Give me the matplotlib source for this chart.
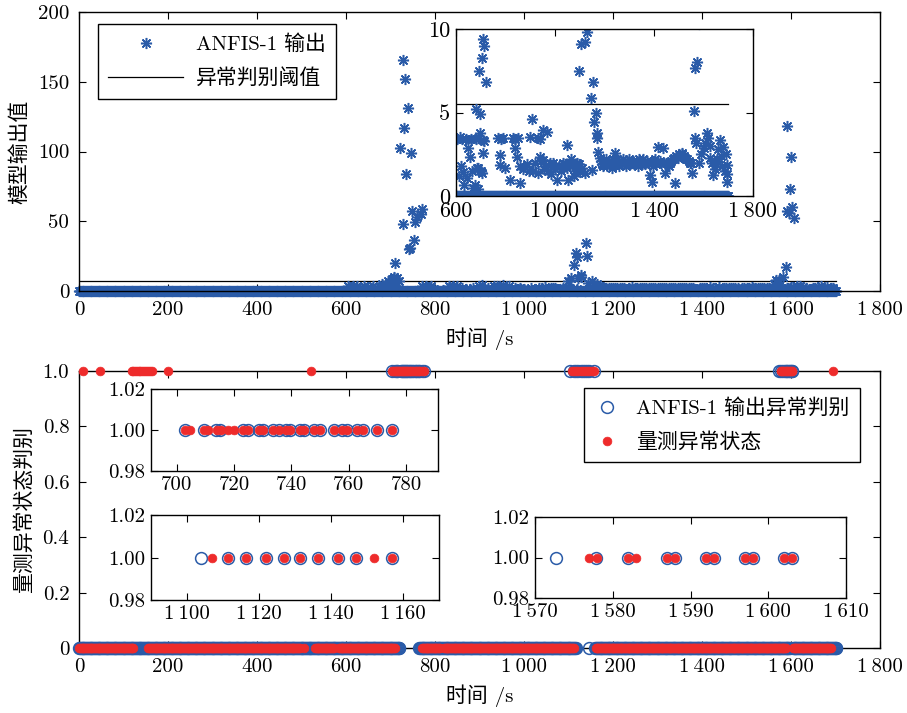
import numpy as np
import matplotlib
matplotlib.use("Agg")
import matplotlib.pyplot as plt
from matplotlib.lines import Line2D

plt.rcParams["font.family"] = ["cmr10", "Noto Sans CJK SC", "DejaVu Serif"]
plt.rcParams["mathtext.fontset"] = "cm"
plt.rcParams["axes.unicode_minus"] = False
plt.rcParams["axes.linewidth"] = 1.0

BLUE = "#2a5ba8"
RED = "#ee2b2b"
TS = "\u2009"

# ---------------- top panel: ANFIS-1 output ----------------
base_start, base_end, base_step = 0, 1700, 2  # output ~0 for every sample

big_t = [707, 711, 715, 722, 727.5, 727.5, 731, 732, 735, 739, 741, 744.7, 745, 748.5,
         752, 756, 760, 768, 771,
         1105, 1112, 1116, 1120, 1127, 1138.6, 1142,
         1581, 1588.6, 1592, 1592, 1596, 1598, 1600, 1603, 1606]
big_v = [10.3, 20.3, 9.0, 102.3, 165.6, 48.0, 116.6, 152.0, 83.9, 131.0, 29.9, 31.0, 99.2, 57.6,
         36.6, 49.7, 53.3, 55.0, 58.6,
         9.1, 18.6, 27.0, 24.6, 11.5, 34.6, 25.1,
         10.3, 17.4, 118.3, 57.0, 55.7, 73.1, 95.8, 60.0, 52.1]

small_t = [605, 616, 625, 640, 660, 680, 690, 697, 710, 712,
           680.8, 697, 694, 703.8, 707.8, 720,
           650, 656.6, 683.6, 629.5, 710, 632, 677, 645, 665, 690, 700, 705, 620, 612, 670, 688,
           771, 780, 791, 832, 840, 850, 778, 778, 798, 818, 838, 845, 858.6, 879, 899, 906,
           932.6, 940, 952.7, 966, 939, 952.7, 980, 993, 1007, 1047, 1033.6, 1060.6, 1087.6,
           1054, 1101, 1148,
           860, 870, 885, 895, 910, 920, 930, 945, 960, 970, 985, 1000, 1015, 1025, 1040,
           1050, 1070, 1080, 1095, 1110, 1120, 1065, 1075, 990, 955,
           1128, 1121, 1098, 1152, 1144, 1164.5, 1157.6, 1168.5, 1175, 1170,
           1180, 1190, 1200, 1210, 1220, 1230, 1242, 1250, 1260, 1270, 1280, 1290, 1300,
           1310, 1320, 1330, 1340, 1350, 1360, 1370, 1380, 1384, 1390.7, 1400, 1410, 1417.5,
           1430, 1437.6, 1444.4, 1450, 1460, 1470, 1480, 1485, 1490, 1500, 1512, 1520, 1530,
           1540, 1552, 1550,
           1185, 1195, 1205, 1215, 1225, 1235, 1255, 1265, 1275, 1285, 1295, 1305, 1315,
           1325, 1335, 1345, 1355, 1365, 1375, 1395, 1405, 1425, 1455, 1465, 1475, 1495,
           1505, 1515, 1525, 1535, 1545,
           1572.5, 1565.7, 1561.6, 1565.7, 1570, 1613, 1620, 1600, 1666.7, 1680, 1633, 1640,
           1693.7, 1693.7, 1690, 1685, 1625, 1645, 1655, 1675, 1695, 1605, 1580, 1590,
           1660, 1670, 1650, 1628]
small_v = [3.4, 3.55, 3.4, 3.4, 3.4, 3.4, 3.5, 3.75, 3.35, 3.3,
           5.19, 4.91, 7.5, 8.28, 9.38, 6.83,
           2.86, 2.35, 1.66, 1.46, 2.56, 0.66, 0.66, 1.1, 1.5, 1.7, 1.5, 1.4, 1.8, 1.2, 0.5, 0.4,
           3.45, 3.4, 3.45, 3.45, 3.4, 3.45, 2.45, 1.86, 1.66, 0.96, 2.86, 2.35, 0.76, 1.76, 3.55, 4.61,
           3.45, 3.4, 3.95, 3.85, 2.35, 2.16, 1.96, 1.76, 0.96, 3.05, 1.96, 1.96, 1.96,
           0.96, 1.46, 1.56,
           1.8, 1.6, 1.9, 1.5, 1.5, 2.0, 1.4, 2.1, 1.8, 1.5, 1.3, 1.6, 1.8, 1.5, 1.9,
           1.7, 1.8, 1.5, 1.9, 1.7, 1.4, 2.2, 1.2, 2.0, 1.6,
           9.84, 9.24, 7.5, 6.83, 5.85, 4.99, 4.45, 3.75, 2.65, 3.5,
           2.3, 1.9, 2.0, 1.8, 2.1, 1.7, 2.56, 2.2, 1.8, 2.0, 1.9, 2.1, 2.2,
           2.0, 1.9, 2.1, 2.2, 1.9, 2.0, 2.1, 2.0, 1.26, 0.86, 2.1, 1.9, 2.95,
           2.0, 2.86, 1.36, 2.0, 1.8, 2.1, 2.3, 0.76, 2.4, 2.5, 2.56, 2.4, 2.2,
           2.1, 1.36, 2.0,
           2.1, 1.8, 2.2, 2.0, 1.9, 2.2, 1.9, 2.1, 2.2, 1.8, 2.0, 1.9, 2.1,
           2.0, 1.8, 2.1, 2.2, 1.9, 2.0, 1.8, 2.2, 2.1, 1.9, 2.0, 2.2, 2.3,
           2.4, 2.5, 2.3, 2.2, 2.0,
           8.04, 7.68, 5.09, 3.45, 3.2, 3.75, 3.5, 2.9, 3.35, 2.95, 1.96, 1.26,
           1.86, 0.86, 2.5, 1.5, 2.3, 1.6, 2.2, 1.8, 1.3, 3.2, 2.0, 2.5,
           2.8, 2.4, 1.9, 3.0]

thresh_main, thresh_inset = 7.0, 5.5
thresh_end = 1700

# ---------------- bottom panel: anomaly decisions ----------------
blue_zero_segs = [(0, 720), (764, 1116), (1146, 1146), (1160, 1598), (1604, 1702)]
red_zero_segs = [(0, 122), (156, 497), (505, 505), (530, 572), (584, 711),
                 (771, 812), (820, 1112), (1161, 1589), (1604, 1690)]

blue_one_t = [703, 709.5, 713.5, 715, 723, 725, 728.5, 730, 733.5, 735.5, 738, 739.5, 743,
              744.5, 748, 750, 755, 757.5, 759.5, 763, 765, 770, 775,
              1104, 1111.5, 1116.5, 1122, 1127, 1131.5, 1136.5, 1142, 1147, 1157,
              1572.7, 1577.8, 1582, 1587, 1588, 1592, 1593, 1597, 1598, 1602, 1603]
red_one_t = [10, 47, 118, 122, 126, 130, 134, 138, 142, 146, 150, 155, 160, 164, 201, 521,
             703, 704.5, 709.5, 711, 714, 715.5, 718, 720, 723, 725, 728.5, 730, 733.5, 735.5,
             738, 739.5, 743, 744.5, 748, 750, 755, 757.5, 759.5, 763, 765, 770, 775,
             1107, 1111.5, 1116.5, 1122, 1127, 1131.5, 1136.5, 1142, 1147, 1152, 1157,
             1577, 1578, 1582, 1583, 1587, 1588, 1592, 1593, 1597, 1598, 1602, 1603, 1694]

x_ticks = [0, 200, 400, 600, 800, 1000, 1200, 1400, 1600, 1800]


def fmt(v):
    s = str(int(v))
    return s if len(s) < 4 else s[:-3] + TS + s[-3:]


def style(ax, fs, pad=7):
    ax.tick_params(direction="in", top=True, right=True, length=5, width=0.8,
                   labelsize=fs, pad=pad)


def expand(segs, step=2):
    return np.concatenate([np.arange(a, b + 0.1, step) for a, b in segs])


W, H = 907, 713
fig = plt.figure(figsize=(W / 100, H / 100), dpi=100)

t_base = np.arange(base_start, base_end + 0.1, base_step)
t_all = np.concatenate([t_base, big_t, small_t])
v_all = np.concatenate([np.zeros_like(t_base), big_v, small_v])
star = (8, 2, 0)

ax1 = fig.add_axes([79 / W, 1 - 291 / H, 801 / W, 279 / H])
ax1.plot([0, thresh_end], [thresh_main, thresh_main], color="k", lw=0.9, zorder=1)
ax1.plot(t_all, v_all, ls="none", marker=star, ms=8, mew=1.1, color=BLUE,
         clip_on=False, zorder=2)
ax1.set_xlim(0, 1800)
ax1.set_ylim(0, 200)
ax1.set_xticks(x_ticks)
ax1.set_xticklabels([fmt(v) for v in x_ticks])
ax1.set_yticks([0, 50, 100, 150, 200])
style(ax1, 15)
ax1.set_xlabel("时间 /s", fontsize=15, labelpad=6)
ax1.set_ylabel("模型输出值", fontsize=15, labelpad=6)
h1 = [Line2D([], [], ls="none", marker=star, ms=8, mew=1.1, color=BLUE),
      Line2D([], [], color="k", lw=0.9)]
fig.legend(h1, ["ANFIS-1 输出", "异常判别阈值"], loc="upper left",
           bbox_to_anchor=(98 / W, 1 - 24 / H), fontsize=15, fancybox=False,
           edgecolor="k", framealpha=1, handlelength=3.6, borderaxespad=0,
           labelspacing=0.68, borderpad=0.5, handletextpad=0.6)

ins = fig.add_axes([456 / W, 1 - 196 / H, 297 / W, 167 / H])
ins.plot([600, thresh_end], [thresh_inset, thresh_inset], color="k", lw=0.9, zorder=1)
ins.plot(t_all, v_all, ls="none", marker=star, ms=8, mew=1.1, color=BLUE, zorder=2)
ins.set_xlim(600, 1800)
ins.set_ylim(0, 10)
ins.set_xticks([600, 1000, 1400, 1800])
ins.set_xticklabels([fmt(v) for v in [600, 1000, 1400, 1800]])
ins.set_yticks([0, 5, 10])
style(ins, 16, pad=4)

# bottom
ax2 = fig.add_axes([79 / W, 1 - 648 / H, 801 / W, 277 / H])
tb0 = expand(blue_zero_segs)
tr0 = expand(red_zero_segs)
circ = dict(ls="none", marker="o", ms=8.5, mfc="none", mec=BLUE, mew=1.1, clip_on=False)
dot = dict(ls="none", marker="o", ms=6.3, mfc=RED, mec=RED, mew=0.5, clip_on=False)
ax2.plot(np.concatenate([tb0, blue_one_t]),
         np.concatenate([np.zeros_like(tb0), np.ones(len(blue_one_t))]), **circ, zorder=3)
ax2.plot(np.concatenate([tr0, red_one_t]),
         np.concatenate([np.zeros_like(tr0), np.ones(len(red_one_t))]), **dot, zorder=4)
ax2.set_xlim(0, 1800)
ax2.set_ylim(0, 1)
ax2.set_xticks(x_ticks)
ax2.set_xticklabels([fmt(v) for v in x_ticks])
ax2.set_yticks([0, 0.2, 0.4, 0.6, 0.8, 1.0])
ax2.set_yticklabels(["0", "0.2", "0.4", "0.6", "0.8", "1.0"])
style(ax2, 15)
ax2.set_xlabel("时间 /s", fontsize=15, labelpad=6)
ax2.set_ylabel("量测异常状态判别", fontsize=15, labelpad=6)
h2 = [Line2D([], [], **circ), Line2D([], [], **dot)]
fig.legend(h2, ["ANFIS-1 输出异常判别", "量测异常状态"], loc="upper left",
           bbox_to_anchor=(584 / W, 1 - 388 / H), fontsize=15, fancybox=False,
           edgecolor="k", framealpha=1, handlelength=1.2, borderaxespad=0,
           labelspacing=0.68, borderpad=0.5, handletextpad=0.8)

insets = [
    ([151, 389.3, 437.7, 471], (691, 791), [700, 720, 740, 760, 780]),
    ([151, 515.3, 439, 600], (1090, 1170), [1100, 1120, 1140, 1160]),
    ([535, 517.3, 846, 597.7], (1570, 1610), [1570, 1580, 1590, 1600, 1610]),
]
for (l, t, r, b), xl, xt in insets:
    a = fig.add_axes([l / W, 1 - b / H, (r - l) / W, (b - t) / H])
    bt = [v for v in blue_one_t if xl[0] <= v <= xl[1]]
    rt = [v for v in red_one_t if xl[0] <= v <= xl[1]]
    a.plot(bt, np.ones(len(bt)), **circ, zorder=3)
    a.plot(rt, np.ones(len(rt)), **dot, zorder=4)
    a.set_xlim(*xl)
    a.set_ylim(0.98, 1.02)
    a.set_xticks(xt)
    a.set_xticklabels([fmt(v) for v in xt])
    a.set_yticks([0.98, 1.0, 1.02])
    a.set_yticklabels(["0.98", "1.00", "1.02"])
    style(a, 15, pad=4)

fig.savefig("out.png", dpi=100)
